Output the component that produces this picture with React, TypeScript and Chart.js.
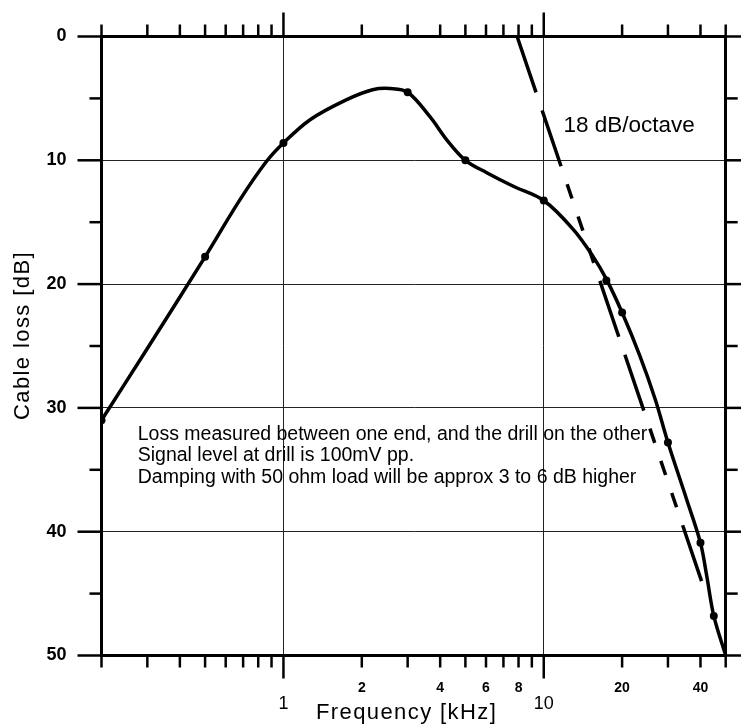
import React, { useEffect, useRef } from 'react';
import { Chart, registerables } from 'chart.js';

Chart.register(...registerables);

// Smooth cable-loss curve (frequency in kHz, loss in dB)
const curveFreq = [0.2, 0.3, 0.5, 0.68, 0.86, 1, 1.27, 1.75, 2.2, 2.57, 3, 3.66, 4.24, 5, 6.04, 7.64, 10, 13, 15.5, 17.4, 20, 23.4, 26.8, 30, 35.4, 40, 42.3, 45, 50];
const curveLoss = [31.0, 25.2, 17.8, 13.2, 10.1, 8.6, 6.7, 5.1, 4.3, 4.2, 4.5, 6.5, 8.35, 10.0, 11.0, 12.1, 13.25, 15.6, 17.8, 19.6, 22.3, 25.8, 29.3, 32.8, 37.4, 40.9, 43.6, 46.8, 50];

// Measured points (dots)
const measuredFreq = [0.2, 0.5, 1, 3, 5, 10, 17.4, 20, 30, 40, 45];
const measuredLoss = [31.0, 17.8, 8.6, 4.5, 10.0, 13.25, 19.7, 22.3, 32.8, 40.9, 46.8];

// 18 dB/octave asymptote
const slopeFreq = [7.9, 40.4];
const slopeLoss = [0, 44];

// Axis ticks
const xTickValues = [0.2, 0.3, 0.4, 0.5, 0.6, 0.7, 0.8, 0.9, 1, 2, 3, 4, 5, 6, 7, 8, 9, 10, 20, 30, 40, 50];
const xMajorTicks = [1, 10];
const xMinorLabels = ['2', '4', '6', '8', '20', '40'];
const xMajorLabels = ['1', '10'];
const yTickValues = [0, 5, 10, 15, 20, 25, 30, 35, 40, 45, 50];

const xTitle = 'Frequency [kHz]';
const yTitle = 'Cable loss [dB]';
const slopeNote = '18 dB/octave';
const noteLines = [
  'Loss measured between one end, and the drill on the other',
  'Signal level at drill is 100mV pp.',
  'Damping with 50 ohm load will be approx 3 to 6 dB higher',
];

const FONT = '"Liberation Sans", Arial, sans-serif';

const decoPlugin = {
  id: 'deco',
  beforeDraw(chart: any) {
    const ctx = chart.ctx;
    ctx.save();
    ctx.fillStyle = '#fff';
    ctx.fillRect(0, 0, chart.width, chart.height);
    ctx.restore();
  },
  afterDraw(chart: any) {
    const ctx = chart.ctx;
    const xs = chart.scales.x;
    const ys = chart.scales.y;
    const a = chart.chartArea;
    ctx.save();
    ctx.strokeStyle = '#000';
    ctx.lineWidth = 2.5;
    const line = (x1: number, y1: number, x2: number, y2: number) => {
      ctx.beginPath();
      ctx.moveTo(x1, y1);
      ctx.lineTo(x2, y2);
      ctx.stroke();
    };
    xTickValues.forEach((v) => {
      const px = xs.getPixelForValue(v);
      const major = xMajorTicks.includes(v);
      line(px, a.bottom, px, a.bottom + (major ? 23 : 12));
      line(px, a.top, px, a.top - (major ? 24 : 12));
    });
    yTickValues.forEach((v) => {
      const py = ys.getPixelForValue(v);
      const len = v % 10 === 0 ? 24 : 12;
      line(a.left - len, py, a.left, py);
      line(a.right, py, a.right + len, py);
    });

    ctx.fillStyle = '#000';
    ctx.textAlign = 'center';
    ctx.textBaseline = 'alphabetic';
    ctx.font = `bold 14px ${FONT}`;
    xMinorLabels.forEach((t) => {
      ctx.fillText(t, xs.getPixelForValue(Number(t)), a.bottom + 36);
    });
    ctx.font = `18px ${FONT}`;
    xMajorLabels.forEach((t) => {
      ctx.fillText(t, xs.getPixelForValue(Number(t)), a.bottom + 53);
    });

    // axis titles
    (ctx as any).letterSpacing = '1.4px';
    ctx.font = `22px ${FONT}`;
    ctx.fillText(xTitle, (a.left + a.right) / 2 - 7, a.bottom + 63);
    ctx.save();
    ctx.translate(23, (a.top + a.bottom) / 2 - 10.5);
    ctx.rotate(-Math.PI / 2);
    ctx.textBaseline = 'middle';
    ctx.fillText(yTitle, 0, 0);
    ctx.restore();
    (ctx as any).letterSpacing = '0px';

    ctx.textAlign = 'left';
    ctx.textBaseline = 'alphabetic';
    ctx.font = `22.5px ${FONT}`;
    ctx.fillText(slopeNote, xs.getPixelForValue(11.9), ys.getPixelForValue(7.7));

    ctx.font = `19.5px ${FONT}`;
    const nx = xs.getPixelForValue(0.2756);
    const ny = ys.getPixelForValue(32.57);
    noteLines.forEach((t, i) => {
      ctx.fillText(t, nx, ny + i * 21.7);
    });
    ctx.restore();
  },
};

export default function App() {
  const ref = useRef<HTMLCanvasElement | null>(null);
  useEffect(() => {
    document.body.style.margin = '0';
    document.body.style.overflow = 'hidden';
    const canvas = ref.current;
    if (!canvas) return;
    const chart = new Chart(canvas, {
      type: 'line',
      data: {
        datasets: [
          {
            label: 'Cable loss',
            data: curveFreq.map((f, i) => ({ x: f, y: curveLoss[i] })),
            borderColor: '#000',
            borderWidth: 3.5,
            pointRadius: 0,
            tension: 0.35,
            fill: false,
          },
          {
            label: 'Measured',
            data: measuredFreq.map((f, i) => ({ x: f, y: measuredLoss[i] })),
            showLine: false,
            pointRadius: 4,
            pointBackgroundColor: '#000',
            pointBorderColor: '#000',
            pointBorderWidth: 0,
          },
          {
            label: slopeNote,
            data: slopeFreq.map((f, i) => ({ x: f, y: slopeLoss[i] })),
            borderColor: '#000',
            borderWidth: 3.5,
            borderDash: [59, 19, 59, 19, 15, 19, 15, 19, 15, 19],
            pointRadius: 0,
            tension: 0,
            fill: false,
          },
        ] as any,
      },
      options: {
        animation: false,
        responsive: false,
        devicePixelRatio: 1,
        layout: { padding: 0 },
        plugins: { legend: { display: false }, tooltip: { enabled: false } },
        scales: {
          x: {
            type: 'logarithmic',
            position: 'bottom',
            min: 0.2,
            max: 50,
            afterBuildTicks: (s: any) => {
              s.ticks = xTickValues.map((v) => ({ value: v }));
            },
            afterFit: (s: any) => {
              s.height = 70.5;
              s.paddingLeft = 0;
              s.paddingRight = 0;
            },
            ticks: { display: false },
            grid: {
              drawTicks: false,
              lineWidth: 1,
              color: (c: any) => (c.tick && xMajorTicks.includes(c.tick.value) ? '#222' : 'rgba(0,0,0,0)'),
            },
            border: { display: true, color: '#000', width: 3 },
          },
          x2: {
            type: 'logarithmic',
            axis: 'x',
            position: 'top',
            min: 0.2,
            max: 50,
            afterFit: (s: any) => {
              s.height = 36.5;
              s.paddingLeft = 0;
              s.paddingRight = 0;
            },
            ticks: { display: false },
            grid: { display: false },
            border: { display: true, color: '#000', width: 3 },
          },
          y: {
            type: 'linear',
            position: 'left',
            reverse: true,
            min: 0,
            max: 50,
            afterBuildTicks: (s: any) => {
              s.ticks = yTickValues.map((v) => ({ value: v }));
            },
            afterFit: (s: any) => {
              s.width = 101.5;
              s.paddingTop = 0;
              s.paddingBottom = 0;
            },
            ticks: {
              autoSkip: false,
              padding: 35,
              color: '#000',
              font: { family: FONT, size: 18, weight: 'bold' },
              callback: (v: any) => (Number(v) % 10 === 0 ? String(v) : ''),
            },
            grid: {
              drawTicks: false,
              lineWidth: 1,
              color: (c: any) => {
                const v = c.tick ? c.tick.value : -1;
                return v % 10 === 0 && v !== 0 && v !== 50 ? '#222' : 'rgba(0,0,0,0)';
              },
            },
            border: { display: true, color: '#000', width: 3 },
          },
          y2: {
            type: 'linear',
            axis: 'y',
            position: 'right',
            reverse: true,
            min: 0,
            max: 50,
            afterFit: (s: any) => {
              s.width = 15.3;
              s.paddingTop = 0;
              s.paddingBottom = 0;
            },
            ticks: { display: false },
            grid: { display: false },
            border: { display: true, color: '#000', width: 3 },
          },
        },
      } as any,
      plugins: [decoPlugin],
    });
    return () => chart.destroy();
  }, []);
  return (
    <div style={{ width: 741, height: 726 }}>
      <canvas ref={ref} width={741} height={726} style={{ display: 'block' }} />
    </div>
  );
}
